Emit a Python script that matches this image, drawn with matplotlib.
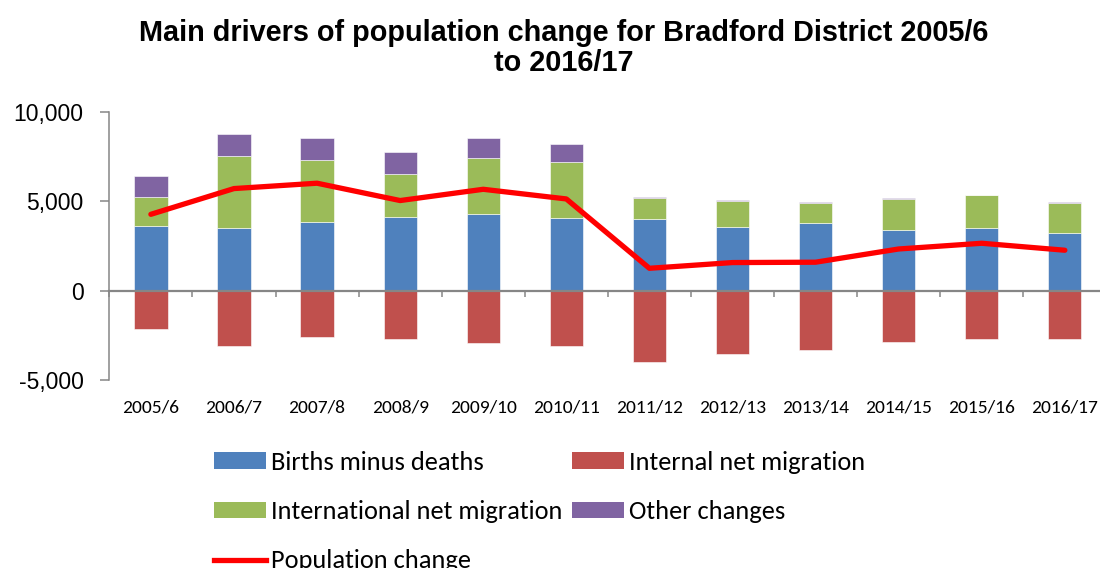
import matplotlib
matplotlib.use("Agg")
import matplotlib.pyplot as plt
from matplotlib.patches import Patch
from matplotlib.lines import Line2D
from matplotlib.ticker import FuncFormatter
import numpy as np

# Components of population change, Bradford District (persons)
years = ["2005/6", "2006/7", "2007/8", "2008/9", "2009/10", "2010/11",
         "2011/12", "2012/13", "2013/14", "2014/15", "2015/16", "2016/17"]
births_minus_deaths = [3640, 3530, 3860, 4140, 4310, 4090, 4000, 3560, 3790, 3400, 3510, 3230]
internal_migration = [-2160, -3080, -2610, -2700, -2940, -3110, -4010, -3560, -3340, -2850, -2720, -2720]
international_migration = [1590, 4010, 3450, 2390, 3120, 3110, 1200, 1460, 1120, 1730, 1830, 1690]
other_changes = [1200, 1210, 1230, 1210, 1100, 1010, 30, 60, 50, 40, 30, 20]
population_change = [4270, 5710, 6010, 5040, 5670, 5130, 1250, 1570, 1590, 2330, 2650, 2260]

C_BLUE = "#4F81BD"
C_RED = "#C0504D"
C_GREEN = "#9BBB59"
C_PURPLE = "#8064A2"
C_LINE = "#FF0000"
C_AXIS = "#868686"

BODY_FONT = ["Carlito", "Lato", "DejaVu Sans"]
ARIAL = ["Liberation Sans", "DejaVu Sans"]

fig = plt.figure(figsize=(11, 5.68), dpi=100)
ax = fig.add_axes([0.0994, 0.331, 0.9064, 0.472])

x = np.arange(len(years))
w = 0.40
bmd = np.array(births_minus_deaths)
intl = np.array(international_migration)
oth = np.array(other_changes)

edge = dict(edgecolor="white", linewidth=0.4)
ax.bar(x, bmd, w, color=C_BLUE, zorder=2, **edge)
ax.bar(x, internal_migration, w, color=C_RED, zorder=2, **edge)
ax.bar(x, intl, w, bottom=bmd, color=C_GREEN, zorder=2, **edge)
ax.bar(x, oth, w, bottom=bmd + intl, color=C_PURPLE, zorder=2, **edge)
ax.plot(x, population_change, color=C_LINE, linewidth=3.8, zorder=4,
        solid_joinstyle="round", solid_capstyle="round")

ax.set_xlim(-0.5, len(years) - 0.5)
ax.set_ylim(-5000, 10000)

# y axis
ax.set_yticks([-5000, 0, 5000, 10000])
ax.yaxis.set_major_formatter(FuncFormatter(lambda v, p: f"{int(v):,}"))
ax.tick_params(axis="y", direction="out", length=6.5, width=1.1, color=C_AXIS,
               pad=12, labelsize=16.5)
for lab in ax.get_yticklabels():
    lab.set_fontfamily(ARIAL)
ax.spines["left"].set_color(C_AXIS)
ax.spines["left"].set_linewidth(1.1)

# horizontal axis line at zero, with ticks between categories
ax.spines["bottom"].set_position(("data", 0))
ax.spines["bottom"].set_color(C_AXIS)
ax.spines["bottom"].set_linewidth(1.6)
ax.spines["bottom"].set_zorder(3)
for s in ("top", "right"):
    ax.spines[s].set_visible(False)
ax.set_xticks(np.arange(-0.5, len(years) - 0.5, 1.0))
ax.set_xticklabels([])
ax.tick_params(axis="x", direction="out", length=4.5, width=1.1, color=C_AXIS)

# category labels along the bottom of the plot area
sec = ax.secondary_xaxis(0)
sec.set_xticks(x)
sec.set_xticklabels(years, fontfamily=BODY_FONT, fontsize=14)
sec.tick_params(axis="x", length=0, pad=14)
sec.spines["bottom"].set_visible(False)

fig.text(0.5125, 0.967,
         "Main drivers of population change for Bradford District 2005/6\nto 2016/17",
         ha="center", va="top", fontsize=20.8, fontweight="bold",
         fontfamily=ARIAL, linespacing=1.1)

handles = [
    Patch(facecolor=C_BLUE, label="Births minus deaths"),
    Patch(facecolor=C_GREEN, label="International net migration"),
    Line2D([], [], color=C_LINE, linewidth=3.8, label="Population change"),
    Patch(facecolor=C_RED, label="Internal net migration"),
    Patch(facecolor=C_PURPLE, label="Other changes"),
]
fig.legend(handles=handles, ncol=2, loc="upper left",
           bbox_to_anchor=(0.1945, 0.2065), frameon=False,
           prop={"family": BODY_FONT, "size": 19},
           handlelength=1.97, handleheight=0.57, handletextpad=0.19,
           columnspacing=0.38, labelspacing=1.0, borderaxespad=0, borderpad=0)

fig.savefig("out.png", dpi=100)
